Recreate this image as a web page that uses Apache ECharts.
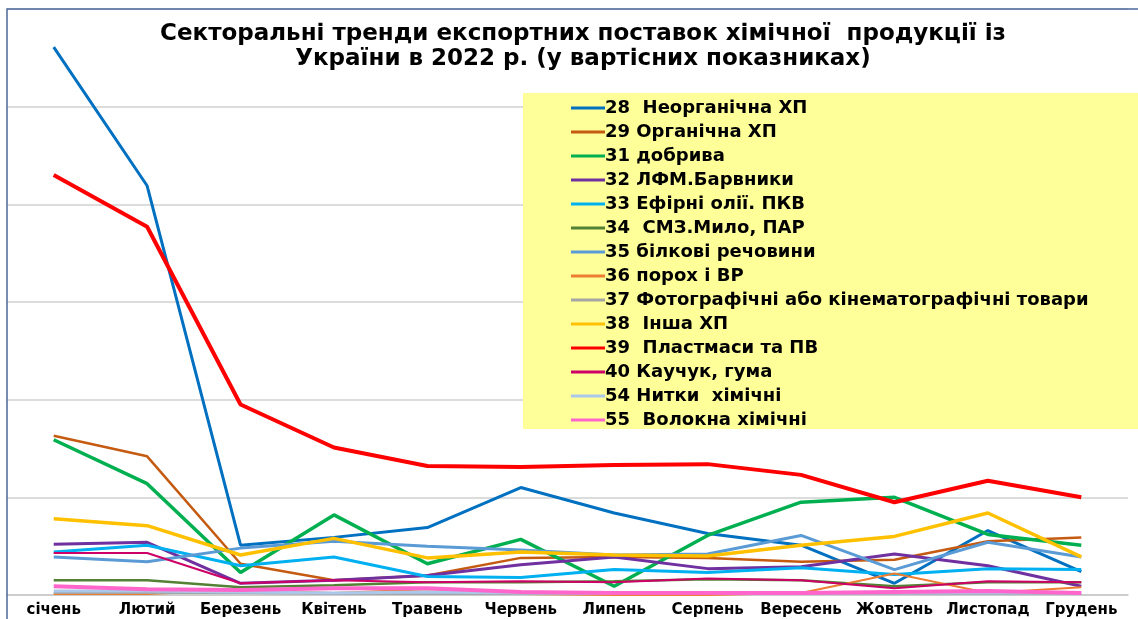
<!DOCTYPE html>
<html>
<head>
<meta charset="utf-8">
<script src="https://cdn.jsdelivr.net/npm/echarts@6/dist/echarts.min.js"></script>
<style>
  html, body { margin: 0; padding: 0; background: #fff; }
  #chart { width: 1138px; height: 619px; }
</style>
</head>
<body>
<div id="chart"></div>
<script>
// місяці
var months = ["січень", "Лютий", "Березень", "Квітень", "Травень", "Червень",
  "Липень", "Серпень", "Вересень", "Жовтень", "Листопад", "Грудень"];

// значення (умовні одиниці, сітка через 100)
var s28 = [561, 419, 51, 59, 69, 110, 84, 63, 51, 12, 66, 24];
var s29 = [163, 142, 32, 15, 20, 38, 39, 38, 34, 36, 55, 59];
var s31 = [159, 114, 23, 82, 32, 57, 9, 61, 95, 100, 62, 51];
var s32 = [52, 54, 12, 15, 20, 31, 39, 27, 29, 42, 30, 9];
var s33 = [44, 51, 30, 39, 19, 18, 26, 23, 28, 21, 27, 26];
var s34 = [15, 15, 8, 10, 13, 13, 14, 16, 15, 9, 13, 13];
var s35 = [39, 34, 48, 55, 50, 46, 41, 42, 61, 26, 54, 39];
var s36 = [1, 1, 5, 2, 6, 1, 0, 0, 2, 22, 2, 8];
var s37 = [2, 2, 2, 1, 1, 1, 1, 1, 1, 1, 1, 1];
var s38 = [78, 71, 41, 58, 38, 44, 41, 40, 51, 60, 84, 39];
var s39 = [430, 377, 195, 151, 132, 131, 133, 134, 123, 95, 117, 100];
var s40 = [43, 43, 12, 15, 13, 14, 13, 17, 15, 7, 14, 13];
var s54 = [4, 4, 3, 2, 3, 2, 2, 2, 2, 2, 2, 2];
var s55 = [9, 6, 5, 7, 7, 3, 2, 2, 2, 3, 4, 2];

var names = ["28  Неорганічна ХП", "29 Органічна ХП", "31 добрива", "32 ЛФМ.Барвники",
  "33 Ефірні олії. ПКВ", "34  СМЗ.Мило, ПАР", "35 білкові речовини", "36 порох і ВР",
  "37 Фотографічні або кінематографічні товари", "38  Інша ХП", "39  Пластмаси та ПВ",
  "40 Каучук, гума", "54 Нитки  хімічні", "55  Волокна хімічні"];
var values = [s28, s29, s31, s32, s33, s34, s35, s36, s37, s38, s39, s40, s54, s55];
var colors = ["#0070C0", "#C55A11", "#00B050", "#7030A0", "#00B0F0", "#548235", "#5B9BD5",
  "#ED7D31", "#A5A5A5", "#FFC000", "#FF0000", "#CC0066", "#A9C8EA", "#FF66CC"];
var widths = [3, 2.5, 3.5, 3, 3, 2.5, 3, 2, 2, 3.5, 4, 2, 3, 4];

var series = [];
for (var i = 0; i < names.length; i++) {
  series.push({
    name: names[i],
    type: "line",
    data: values[i],
    symbol: "none",
    color: colors[i],
    lineStyle: { width: widths[i], color: colors[i] },
    z: 2 + i
  });
}

var myChart = echarts.init(document.getElementById("chart"));
myChart.setOption({
  animation: false,
  textStyle: { fontFamily: "DejaVu Sans, sans-serif" },
  title: {
    text: "Секторальні тренди експортних поставок хімічної  продукції із\nУкраїни в 2022 р. (у вартісних показниках)",
    left: 578,
    textAlign: "center",
    top: 17,
    textStyle: { fontFamily: "DejaVu Sans", fontSize: 23, fontWeight: "bold", color: "#000", lineHeight: 25 }
  },
  grid: { left: 7, right: 10, top: 9, bottom: 24 },
  graphic: [
    {
      type: "rect",
      shape: { x: 7, y: 9, width: 1140, height: 620 },
      style: { fill: null, stroke: "#4A6A9B", lineWidth: 1.5 },
      z: 1
    },
    {
      type: "rect",
      shape: { x: 523, y: 93, width: 620, height: 336 },
      style: { fill: "#FFFF99" },
      z: 50
    }
  ],
  legend: {
    orient: "vertical",
    left: 571,
    top: 96,
    icon: "rect",
    itemWidth: 34,
    itemHeight: 3,
    itemGap: 0,
    padding: 0,
    z: 60,
    textStyle: { fontFamily: "DejaVu Sans", fontSize: 18, fontWeight: "bold", color: "#000", lineHeight: 24, padding: [0, 0, 0, -5] },
    data: names
  },
  xAxis: {
    type: "category",
    data: months,
    boundaryGap: true,
    axisLine: { lineStyle: { color: "#C8C8C8", width: 1.5 } },
    axisTick: { show: false },
    axisLabel: { interval: 0, fontFamily: "DejaVu Sans", fontSize: 15, fontWeight: "bold", color: "#000", margin: 8 }
  },
  yAxis: {
    type: "value",
    min: 0,
    max: 600,
    interval: 100,
    axisLabel: { show: false },
    axisLine: { show: false },
    axisTick: { show: false },
    splitLine: { lineStyle: { color: "#D0D0D0", width: 1.5 } }
  },
  series: series
});
</script>
</body>
</html>
